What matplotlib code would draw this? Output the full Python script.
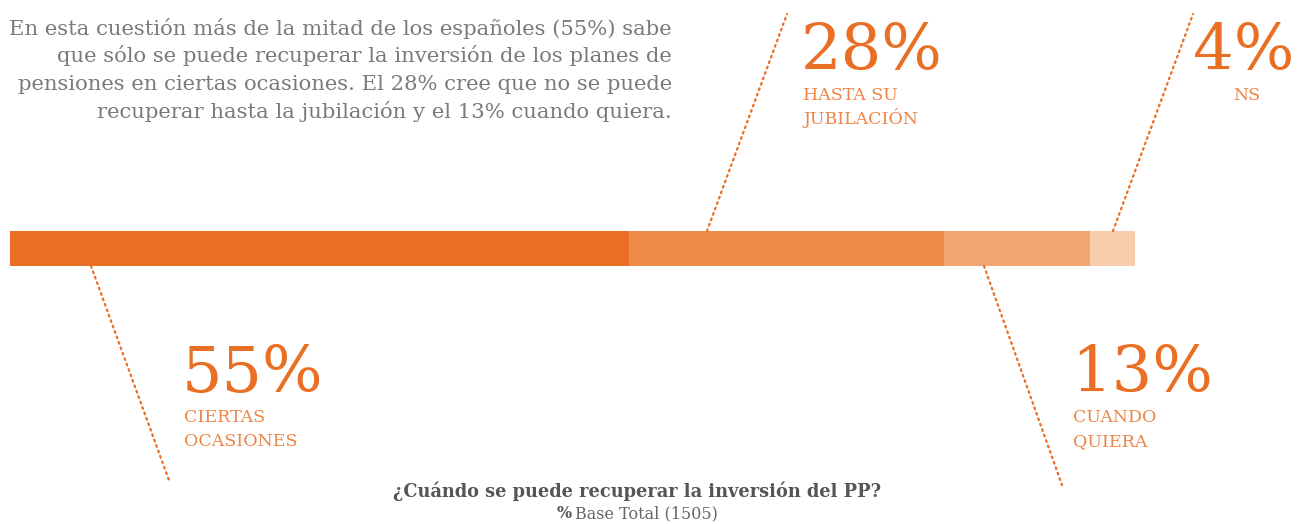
import matplotlib
matplotlib.use("Agg")
import matplotlib.pyplot as plt
from matplotlib.lines import Line2D

# datos
categorias = [["CIERTAS", "OCASIONES"], ["HASTA SU", "JUBILACIÓN"], ["CUANDO", "QUIERA"], ["NS"]]
valores = [55, 28, 13, 4]
colores = ["#E96F24", "#EE8A4A", "#F2A571", "#F8CDAE"]

W, H = 1297, 524
naranja = "#E96F24"
naranja_claro = "#EE8446"
gris = "#7A7A7A"

plt.rcParams["font.family"] = ["DejaVu Serif"]

fig = plt.figure(figsize=(W / 100, H / 100), dpi=100)

def fx(x):
    return x / W

def fy(y):
    return 1 - y / H

# barra apilada
ax = fig.add_axes([fx(10), fy(266), 1125 / W, 35 / H])
izq = 0
for v, c in zip(valores, colores):
    ax.barh(0, v, left=izq, height=1, color=c, linewidth=0)
    izq += v
ax.set_xlim(0, sum(valores))
ax.set_ylim(-0.5, 0.5)
ax.axis("off")

# lineas punteadas
lineas = [
    ((91, 266), (170, 483)),
    ((707, 231), (787, 14)),
    ((984, 266), (1062, 485)),
    ((1113, 231), (1193, 14)),
]
for (x0, y0), (x1, y1) in lineas:
    fig.add_artist(Line2D([fx(x0), fx(x1)], [fy(y0), fy(y1)],
                          transform=fig.transFigure, color=naranja,
                          linewidth=1.6, linestyle=(0, (0.8, 1.8)),
                          dash_capstyle="round"))

# etiquetas grandes
etiquetas = [
    (184, 392, "left"),
    (803, 70, "left"),
    (1073, 392, "left"),
    (1296, 70, "right"),
]
for (x, y, ha), v, cat in zip(etiquetas, valores, categorias):
    fig.text(fx(x - 2), fy(y), f"{v}%", fontsize=46, color=naranja,
             ha=ha, va="baseline")
    for j, linea in enumerate(cat):
        if ha == "right":
            fig.text(fx(1247), fy(y + 30), linea, fontsize=12.5, color=naranja_claro,
                     ha="center", va="baseline")
        else:
            fig.text(fx(x), fy(y + 30 + j * 24), linea, fontsize=12.5,
                     color=naranja_claro, ha="left", va="baseline")

# parrafo
parrafo = [
    "En esta cuestión más de la mitad de los españoles (55%) sabe",
    "que sólo se puede recuperar la inversión de los planes de",
    "pensiones en ciertas ocasiones. El 28% cree que no se puede",
    "recuperar hasta la jubilación y el 13% cuando quiera.",
]
for i, linea in enumerate(parrafo):
    fig.text(fx(672), fy(35 + i * 27.5), linea, fontsize=15.2, color=gris,
             ha="right", va="baseline")

# titulo inferior
fig.text(fx(637), fy(497), "¿Cuándo se puede recuperar la inversión del PP?",
         fontsize=12.8, fontweight="bold", color="#555555", ha="center", va="baseline")
fig.text(fx(572), fy(518), "%", fontsize=11.5, fontweight="bold", color="#555555",
         ha="right", va="baseline")
fig.text(fx(575), fy(518), "Base Total (1505)", fontsize=11.5, color="#666666",
         ha="left", va="baseline")

fig.savefig("out.png", dpi=100)
